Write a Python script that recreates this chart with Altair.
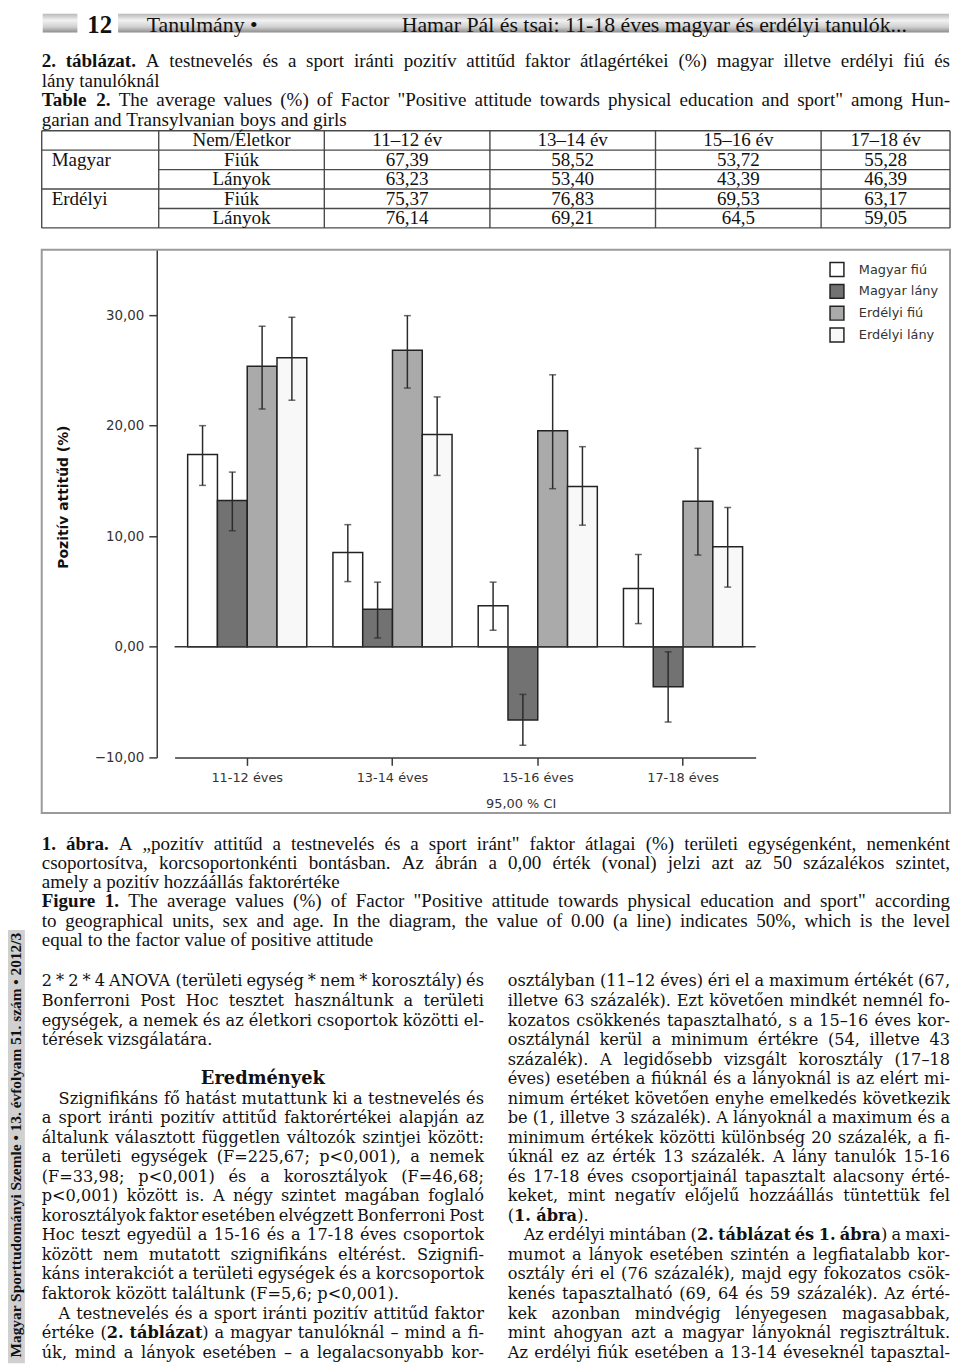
import unicodedata
import altair as alt
import pandas as pd

# ------------------------------------------------------------------ data
AGE_GROUPS = ['11-12 éves', '13-14 éves', '15-16 éves', '17-18 éves']
SERIES = ['Magyar fiú', 'Magyar lány', 'Erdélyi fiú', 'Erdélyi lány']
BAR_COLORS = ['#ffffff', '#727272', '#aaaaaa', '#f8f8f8']

TABLE_HEAD = ['Nem/Életkor', '11–12 év', '13–14 év', '15–16 év', '17–18 év']
TABLE_REGION = ['Magyar', '', 'Erdélyi', '']
TABLE_SEX = ['Fiúk', 'Lányok', 'Fiúk', 'Lányok']
TAB_MAGYAR_FIUK = ['67,39', '58,52', '53,72', '55,28']
TAB_MAGYAR_LANYOK = ['63,23', '53,40', '43,39', '46,39']
TAB_ERDELYI_FIUK = ['75,37', '76,83', '69,53', '63,17']
TAB_ERDELYI_LANYOK = ['76,14', '69,21', '64,5', '59,05']

# 95% CI limits (chart units = % - 50)
LO_MAGYAR_FIU = [14.6, 5.9, 1.5, 2.1]
HI_MAGYAR_FIU = [20.0, 11.05, 5.85, 8.35]
LO_MAGYAR_LANY = [10.5, 0.8, -8.9, -6.8]
HI_MAGYAR_LANY = [15.8, 5.85, -4.3, -0.45]
LO_ERDELYI_FIU = [21.5, 23.4, 14.3, 8.3]
HI_ERDELYI_FIU = [29.0, 29.95, 24.6, 17.95]
LO_ERDELYI_LANY = [22.3, 15.5, 11.0, 5.4]
HI_ERDELYI_LANY = [29.8, 22.6, 18.1, 12.6]

Y_TICKS = [-10, 0, 10, 20, 30]
Y_TITLE = 'Pozitív attitűd (%)'
X_TITLE = '95,00 % CI'

HEADER_NUM = '12'
HEADER_LEFT = 'Tanulmány •'
HEADER_RIGHT = 'Hamar Pál és tsai: 11-18 éves magyar és erdélyi tanulók...'

TAB_CAPTION_HU = ['{2. táblázat.} A testnevelés és a sport iránti pozitív attitűd faktor átlagértékei (%) magyar illetve erdélyi fiú és',
                  'lány tanulóknál']
TAB_CAPTION_EN = ['{Table 2.} The average values (%) of Factor "Positive attitude towards physical education and sport" among Hun-',
                  'garian and Transylvanian boys and girls']
FIG_CAPTION_HU = ['{1. ábra.} A „pozitív attitűd a testnevelés és a sport iránt" faktor átlagai (%) területi egységenként, nemenként',
                  'csoportosítva, korcsoportonkénti bontásban. Az ábrán a 0,00 érték (vonal) jelzi azt az 50 százalékos szintet,',
                  'amely a pozitív hozzáállás faktorértéke']
FIG_CAPTION_EN = ['{Figure 1.} The average values (%) of Factor "Positive attitude towards physical education and sport" according',
                  'to geographical units, sex and age. In the diagram, the value of 0.00 (a line) indicates 50%, which is the level',
                  'equal to the factor value of positive attitude']

LEFT_P1 = ['2 * 2 * 4 ANOVA (területi egység * nem * korosztály) és',
           'Bonferroni Post Hoc tesztet használtunk a területi',
           'egységek, a nemek és az életkori csoportok közötti el-',
           'térések vizsgálatára.']
LEFT_HEADING = 'Eredmények'
LEFT_P2 = ['Szignifikáns fő hatást mutattunk ki a testnevelés és',
           'a sport iránti pozitív attitűd faktorértékei alapján az',
           'általunk választott független változók szintjei között:',
           'a területi egységek (F=225,67; p<0,001), a nemek',
           '(F=33,98; p<0,001) és a korosztályok (F=46,68;',
           'p<0,001) között is. A négy szintet magában foglaló',
           'korosztályok faktor esetében elvégzett Bonferroni Post',
           'Hoc teszt egyedül a 15-16 és a 17-18 éves csoportok',
           'között nem mutatott szignifikáns eltérést. Szignifi-',
           'káns interakciót a területi egységek és a korcsoportok',
           'faktorok között találtunk (F=5,6; p<0,001).']
LEFT_P3 = ['A testnevelés és a sport iránti pozitív attitűd faktor',
           'értéke ({2. táblázat}) a magyar tanulóknál – mind a fi-',
           'úk, mind a lányok esetében – a legalacsonyabb kor-']
RIGHT_P1 = ['osztályban (11–12 éves) éri el a maximum értékét (67,',
            'illetve 63 százalék). Ezt követően mindkét nemnél fo-',
            'kozatos csökkenés tapasztalható, s a 15–16 éves kor-',
            'osztálynál kerül a minimum értékre (54, illetve 43',
            'százalék). A legidősebb vizsgált korosztály (17–18',
            'éves) esetében a fiúknál és a lányoknál is az elért mi-',
            'nimum értéket követően enyhe emelkedés következik',
            'be (1, illetve 3 százalék). A lányoknál a maximum és a',
            'minimum értékek közötti különbség 20 százalék, a fi-',
            'úknál ez az érték 13 százalék. A lány tanulók 15-16',
            'és 17-18 éves csoportjainál tapasztalt alacsony érté-',
            'keket, mint negatív előjelű hozzáállás tüntettük fel',
            '({1. ábra}).']
RIGHT_P2 = ['Az erdélyi mintában ({2. táblázat és 1. ábra}) a maxi-',
            'mumot a lányok esetében szintén a legfiatalabb kor-',
            'osztály éri el (76 százalék), majd egy fokozatos csök-',
            'kenés tapasztalható (69, 64 és 59 százalék). Az érté-',
            'kek azonban mindvégig lényegesen magasabbak,',
            'mint ahogyan azt a magyar lányoknál regisztráltuk.',
            'Az erdélyi fiúk esetében a 13-14 éveseknél tapasztal-']
SIDEBAR = 'Magyar Sporttudományi Szemle • 13. évfolyam 51. szám • 2012/3'

# ------------------------------------------------------------------ font metrics (per 1000 em)
UP = 'ABCDEFGHIJKLMNOPQRSTUVWXYZ'
LO = 'abcdefghijklmnopqrstuvwxyz'


def build(base, upper, lower, digit):
    t = dict(base)
    t.update(zip(UP, upper))
    t.update(zip(LO, lower))
    t.update({d: digit for d in '0123456789'})
    return t


TIMES_R = build({' ': 250, '!': 333, '"': 408, '%': 833, "'": 180, '(': 333, ')': 333, '*': 500, '+': 564,
                 ',': 250, '-': 333, '.': 250, '/': 278, ':': 278, ';': 278, '<': 564, '=': 564, '>': 564,
                 '?': 444, '–': 500, '•': 350, '„': 444, '”': 444, '“': 444},
                [722, 667, 667, 722, 611, 556, 722, 722, 333, 389, 722, 611, 889, 722, 722, 556, 722, 667, 556,
                 611, 722, 722, 944, 722, 722, 611],
                [444, 500, 444, 500, 444, 333, 500, 500, 278, 278, 500, 278, 778, 500, 500, 500, 500, 333, 389,
                 278, 500, 500, 722, 500, 500, 444], 500)
TIMES_B = build({' ': 250, '!': 333, '"': 555, '%': 1000, '(': 333, ')': 333, '*': 500, ',': 250, '-': 333,
                 '.': 250, '/': 278, ':': 333, ';': 333, '–': 500, '•': 350},
                [722, 667, 722, 722, 667, 611, 778, 778, 389, 500, 778, 667, 944, 722, 778, 611, 778, 722, 556,
                 667, 722, 722, 1000, 722, 722, 667],
                [500, 556, 444, 556, 444, 333, 500, 556, 278, 333, 556, 278, 833, 556, 500, 556, 556, 444, 389,
                 333, 556, 500, 722, 500, 500, 444], 500)
VERA_R = build({' ': 318, '!': 402, '"': 460, '%': 950, '(': 390, ')': 390, '*': 500, '+': 838, ',': 318,
                '-': 338, '.': 318, '/': 337, ':': 337, ';': 337, '<': 838, '=': 838, '>': 838, '–': 500},
               [722, 735, 765, 802, 730, 694, 799, 872, 395, 401, 747, 664, 1024, 875, 820, 673, 820, 753, 685,
                667, 843, 722, 1028, 712, 660, 695],
               [596, 640, 560, 640, 592, 370, 640, 644, 320, 310, 606, 320, 948, 644, 602, 640, 640, 478, 513,
                402, 644, 565, 856, 564, 565, 527], 636)
VERA_B = {k: v * 1.1 for k, v in VERA_R.items()}

SERIF = 'Liberation Serif'
BODY = 'DejaVu Serif'
SANS = 'DejaVu Sans'

M = 8          # page margin
W = 952
A_H = 237
B_H = 570
C_H = 554
C_TOP = M + A_H + B_H
CAP_SIZE = 19.2


def cw(ch, table):
    if ch in table:
        return table[ch]
    return table.get(unicodedata.normalize('NFD', ch)[0], 500)


def add(rows, x, y, text, font, size, weight='normal', align='left', angle=0, color='#111'):
    rows.append(dict(x=x, y=y, text=text, font=font, size=size, weight=weight,
                     align=align, angle=angle, color=color))


def place_line(rows, line, x0, x1, y, font, size, tr, tb, justify, indent=0):
    chars, bold = [], False
    for ch in line:
        if ch == '{':
            bold = True
        elif ch == '}':
            bold = False
        else:
            chars.append((ch, bold))
    words, cur = [], []
    for ch, b in chars:
        if ch == ' ':
            if cur:
                words.append(cur)
                cur = []
        else:
            cur.append((ch, b))
    if cur:
        words.append(cur)

    def segs(word):
        s = []
        for ch, b in word:
            if s and s[-1][1] == b:
                s[-1][0] += ch
            else:
                s.append([ch, b])
        return s

    def width(t, b, sz):
        tab = tb if b else tr
        return sum(cw(c, tab) for c in t) * sz / 1000

    ws = [segs(w) for w in words]
    start = x0 + indent
    sz = size
    nat = sum(width(t, b, sz) for s in ws for t, b in s)
    if justify and len(ws) > 1:
        need = nat + (len(ws) - 1) * 0.15 * sz
        if need > x1 - start:
            sz = sz * (x1 - start) / need
            nat = sum(width(t, b, sz) for s in ws for t, b in s)
        gap = (x1 - start - nat) / (len(ws) - 1)
    else:
        gap = tr[' '] * sz / 1000
    x = start
    for i, s in enumerate(ws):
        wlen = sum(width(t, b, sz) for t, b in s)
        if justify and len(ws) > 1 and i == len(ws) - 1:
            xr = x1
            for t, b in reversed(s):
                add(rows, xr, y, t, font, round(sz, 2), 'bold' if b else 'normal', 'right')
                xr -= width(t, b, sz)
        else:
            xs = x
            for t, b in s:
                add(rows, xs, y, t, font, round(sz, 2), 'bold' if b else 'normal', 'left')
                xs += width(t, b, sz)
        x += wlen + gap


def paragraph(lines, ends=True, indent=0):
    out = []
    for i, l in enumerate(lines):
        out.append((l, not (ends and i == len(lines) - 1), indent if i == 0 else 0))
    return out


def place_block(rows, lines, x0, x1, ys, font, size, tr, tb):
    for (l, just, ind), y in zip(lines, ys):
        if l is None:
            continue
        place_line(rows, l, x0, x1, y, font, size, tr, tb, just, ind)


def text_layers(rows):
    df = pd.DataFrame(rows)
    layers = []
    for key, g in df.groupby(['font', 'size', 'weight', 'align', 'angle', 'color'], sort=False):
        font, size, weight, align, angle, color = key
        layers.append(
            alt.Chart(g[['x', 'y', 'text']].reset_index(drop=True)).mark_text(
                font=font, fontSize=float(size), fontWeight=weight, align=align,
                angle=float(angle), color=color, baseline='middle', clip=True)
            .encode(x=alt.X('x:Q', scale=None, axis=None),
                    y=alt.Y('y:Q', scale=None, axis=None),
                    text=alt.Text('text:N')))
    return layers


def rule_layer(segs, color, width):
    df = pd.DataFrame(segs, columns=['x', 'x2', 'y', 'y2'])
    return alt.Chart(df).mark_rule(color=color, strokeWidth=width).encode(
        x=alt.X('x:Q', scale=None, axis=None), x2='x2:Q',
        y=alt.Y('y:Q', scale=None, axis=None), y2='y2:Q')


def rect_layer(segs, fill):
    df = pd.DataFrame(segs, columns=['x', 'x2', 'y', 'y2'])
    return alt.Chart(df).mark_rect(fill=fill).encode(
        x=alt.X('x:Q', scale=None, axis=None), x2='x2:Q',
        y=alt.Y('y:Q', scale=None, axis=None), y2='y2:Q')


# ------------------------------------------------------------------ panel A: header, caption, table
rowsA = []
add(rowsA, 88 - M, 11, HEADER_NUM, SERIF, 25, 'bold')
add(rowsA, 148 - M, 11.5, HEADER_LEFT, SERIF, 22)
add(rowsA, 405 - M, 11.5, HEADER_RIGHT, SERIF, 22)

cap_lines = paragraph(TAB_CAPTION_HU) + paragraph(TAB_CAPTION_EN)
place_block(rowsA, cap_lines, 42 - M, 958 - M, [56 + 19.6 * i - M for i in range(len(cap_lines))],
            SERIF, CAP_SIZE, TIMES_R, TIMES_B)

EDGES = [42, 160, 327, 494, 661, 828, 958]
T_TOP, ROW_H = 126, 19.6


def row_c(k):
    return T_TOP + (k + 0.5) * ROW_H - M


for j, h in enumerate(TABLE_HEAD):
    add(rowsA, (EDGES[j + 1] + EDGES[j + 2]) / 2 - M, row_c(0), h, SERIF, CAP_SIZE, align='center')
table_vals = [TAB_MAGYAR_FIUK, TAB_MAGYAR_LANYOK, TAB_ERDELYI_FIUK, TAB_ERDELYI_LANYOK]
for r in range(4):
    if TABLE_REGION[r]:
        add(rowsA, EDGES[0] + 10 - M, row_c(r + 1), TABLE_REGION[r], SERIF, CAP_SIZE)
    add(rowsA, (EDGES[1] + EDGES[2]) / 2 - M, row_c(r + 1), TABLE_SEX[r], SERIF, CAP_SIZE, align='center')
    for j, v in enumerate(table_vals[r]):
        add(rowsA, (EDGES[j + 2] + EDGES[j + 3]) / 2 - M, row_c(r + 1), v, SERIF, CAP_SIZE, align='center')

tlines = []
for k in range(6):
    y = T_TOP + k * ROW_H - M
    x_start = EDGES[1] if k in (2, 4) else EDGES[0]
    tlines.append((x_start - M, EDGES[-1] - M, y, y))
for e in EDGES:
    tlines.append((e - M, e - M, T_TOP - M, T_TOP + 5 * ROW_H - M))

hdr_grad = alt.Gradient(gradient='linear', x1=0, x2=0, y1=0, y2=1, stops=[
    alt.GradientStop(color='#b8b8b8', offset=0),
    alt.GradientStop(color='#f2f2f2', offset=0.35),
    alt.GradientStop(color='#d0d0d0', offset=0.7),
    alt.GradientStop(color='#8c8c8c', offset=1)])

panelA = alt.layer(
    rect_layer([(43 - M, 78 - M, 0, 19), (119 - M, 957 - M, 0, 19)], hdr_grad),
    rule_layer(tlines, '#4a4a4a', 1.4),
    *text_layers(rowsA)
).properties(width=W, height=A_H)

# ------------------------------------------------------------------ panel B: bar chart
brows = []
for s, vals, lo, hi in zip(SERIES, table_vals,
                           [LO_MAGYAR_FIU, LO_MAGYAR_LANY, LO_ERDELYI_FIU, LO_ERDELYI_LANY],
                           [HI_MAGYAR_FIU, HI_MAGYAR_LANY, HI_ERDELYI_FIU, HI_ERDELYI_LANY]):
    for g, v, l, h in zip(AGE_GROUPS, vals, lo, hi):
        brows.append(dict(group=g, series=s, value=float(v.replace(',', '.')) - 50, lo=l, hi=h))
bar_df = pd.DataFrame(brows)

x_axis = alt.Axis(orient='bottom', offset=-57, labelAngle=0, domainColor='#3a3a3a', domainWidth=1.5,
                  tickColor='#3a3a3a', tickWidth=1.5, tickSize=8, labelFont=SANS, labelFontSize=13,
                  labelColor='#333', labelPadding=6, title=X_TITLE, titleFont=SANS, titleFontSize=13,
                  titleFontWeight='normal', titleColor='#333', titleX=517, titleY=47,
                  titleAlign='center', titleBaseline='middle', grid=False)
y_axis = alt.Axis(values=Y_TICKS, labelExpr="replace(format(datum.value, '.2f'), '.', ',')",
                  offset=-150, domainColor='#3a3a3a', domainWidth=1.5, tickColor='#3a3a3a',
                  tickWidth=1.5, tickSize=8, labelFont=SANS, labelFontSize=13.5, labelColor='#333',
                  labelPadding=5, title=Y_TITLE, titleFont=SANS, titleFontSize=14,
                  titleFontWeight='bold', titleColor='#111', titleX=-94, titleY=250, titleAngle=270,
                  titleAlign='center', titleBaseline='middle', grid=False)

x_enc = alt.X('group:N', sort=AGE_GROUPS, axis=x_axis,
              scale=alt.Scale(range=[176 - M, 762 - M], paddingInner=0.18, paddingOuter=0.09))
xo_enc = alt.XOffset('series:N', sort=SERIES,
                     scale=alt.Scale(domain=SERIES, paddingInner=0, paddingOuter=0))
y_scale = alt.Scale(domain=[-10, 36], range=[513, 0], nice=False, zero=False)

# the legend is lifted to the top level of the page, so its position is in page coordinates
legend = alt.Legend(orient='none', legendX=836 - M, legendY=258 - M, title=None, symbolType='square',
                    symbolSize=196, symbolStrokeColor='#222', symbolStrokeWidth=1.5, symbolOpacity=1,
                    labelFont=SANS, labelFontSize=13, labelColor='#333', labelOffset=14,
                    rowPadding=2, padding=0)

frame = alt.Chart(pd.DataFrame({'a': [0]})).mark_rect(fillOpacity=0, stroke='#9a9a9a', strokeWidth=2).encode(
    x=alt.value(42 - M), x2=alt.value(958 - M), y=alt.value(1), y2=alt.value(B_H - 1))

bars = alt.Chart(bar_df).mark_bar(stroke='#222', strokeWidth=1.5, opacity=1).encode(
    x=x_enc, xOffset=xo_enc,
    y=alt.Y('value:Q', scale=y_scale, axis=y_axis, stack=None),
    y2=alt.datum(0),
    color=alt.Color('series:N', sort=SERIES, scale=alt.Scale(domain=SERIES, range=BAR_COLORS), legend=legend))

zero = alt.Chart(pd.DataFrame({'v': [0]})).mark_rule(color='#333', strokeWidth=1.5).encode(
    y=alt.Y('v:Q', scale=y_scale, axis=y_axis), x=alt.value(176 - M), x2=alt.value(762 - M))

whisk = alt.Chart(bar_df).mark_rule(color='#2b2b2b', strokeWidth=1.5).encode(
    x=x_enc, xOffset=xo_enc, y=alt.Y('lo:Q', scale=y_scale, axis=y_axis), y2='hi:Q')
cap_lo = alt.Chart(bar_df).mark_tick(color='#2b2b2b', thickness=1.5, size=7).encode(
    x=x_enc, xOffset=xo_enc, y=alt.Y('lo:Q', scale=y_scale, axis=y_axis))
cap_hi = alt.Chart(bar_df).mark_tick(color='#2b2b2b', thickness=1.5, size=7).encode(
    x=x_enc, xOffset=xo_enc, y=alt.Y('hi:Q', scale=y_scale, axis=y_axis))

panelB = alt.layer(frame, bars, zero, whisk, cap_lo, cap_hi).properties(width=W, height=B_H)

# ------------------------------------------------------------------ panel C: caption, body, sidebar
rowsC = []
fig_lines = paragraph(FIG_CAPTION_HU) + paragraph(FIG_CAPTION_EN)
place_block(rowsC, fig_lines, 42 - M, 958 - M, [845 + 19.4 * i - C_TOP for i in range(len(fig_lines))],
            SERIF, CAP_SIZE, TIMES_R, TIMES_B)

BODY_Y = [984 + 19.7 * i - C_TOP for i in range(20)]
BLANK = [(None, False, 0)]
left_lines = paragraph(LEFT_P1) + BLANK + BLANK + paragraph(LEFT_P2, indent=17) + \
    paragraph(LEFT_P3, ends=False, indent=17)
right_lines = paragraph(RIGHT_P1) + paragraph(RIGHT_P2, ends=False, indent=16)
place_block(rowsC, left_lines, 42 - M, 488 - M, BODY_Y, BODY, 16.3, VERA_R, VERA_B)
place_block(rowsC, right_lines, 512 - M, 958 - M, BODY_Y, BODY, 16.3, VERA_R, VERA_B)
add(rowsC, 265 - M, BODY_Y[5], LEFT_HEADING, BODY, 18, 'bold', 'center')
add(rowsC, 8, 1149 - C_TOP, SIDEBAR, SERIF, 15.5, 'bold', 'center', 270)

panelC = alt.layer(
    rect_layer([(0, 25 - M, 932 - C_TOP, C_H)], '#d0d0d0'),
    *text_layers(rowsC)
).properties(width=W, height=C_H)

chart = alt.vconcat(panelA, panelB, panelC, spacing=0, bounds='flush', padding=0).configure_view(stroke=None)

chart.save("out.html", embed_options={"renderer": "svg", "actions": False})
